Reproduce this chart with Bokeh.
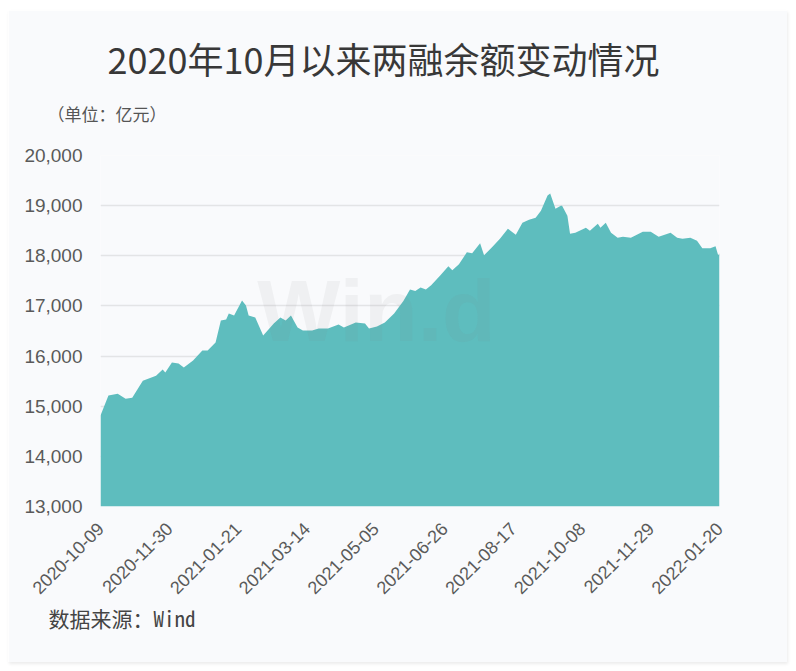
import pandas as pd
from bokeh.plotting import figure
from bokeh.models import (ColumnDataSource, Range1d, FixedTicker, NumeralTickFormatter,
                          DatetimeTickFormatter, Label, Title)
from bokeh.embed import file_html
from bokeh.resources import INLINE
from math import pi

TITLE = "2020年10月以来两融余额变动情况"
UNIT = "（单位：亿元）"
SOURCE = "数据来源：Wind"

# 两融余额 (亿元)
dates = [
    "2020-10-09", "2020-10-15", "2020-10-22", "2020-10-28", "2020-11-02", "2020-11-10",
    "2020-11-20", "2020-11-25", "2020-11-27", "2020-12-02", "2020-12-07", "2020-12-11",
    "2020-12-18", "2020-12-25", "2020-12-29", "2021-01-04", "2021-01-08", "2021-01-12",
    "2021-01-14", "2021-01-18", "2021-01-24", "2021-01-27", "2021-01-29", "2021-02-03",
    "2021-02-09", "2021-02-17", "2021-02-22", "2021-02-26", "2021-03-02", "2021-03-07",
    "2021-03-11", "2021-03-18", "2021-03-23", "2021-03-30", "2021-04-07", "2021-04-11",
    "2021-04-20", "2021-04-27", "2021-04-30", "2021-05-06", "2021-05-12", "2021-05-19",
    "2021-05-26", "2021-05-31", "2021-06-04", "2021-06-08", "2021-06-12", "2021-06-16",
    "2021-06-23", "2021-06-29", "2021-07-02", "2021-07-07", "2021-07-13", "2021-07-17",
    "2021-07-23", "2021-07-26", "2021-08-01", "2021-08-07", "2021-08-13", "2021-08-15",
    "2021-08-19", "2021-08-24", "2021-08-29", "2021-09-03", "2021-09-07", "2021-09-12",
    "2021-09-14", "2021-09-18", "2021-09-22", "2021-09-23", "2021-09-27", "2021-09-29",
    "2021-10-03", "2021-10-11", "2021-10-14", "2021-10-20", "2021-10-22", "2021-10-26",
    "2021-10-30", "2021-11-04", "2021-11-08", "2021-11-14", "2021-11-23", "2021-11-29",
    "2021-12-05", "2021-12-14", "2021-12-19", "2021-12-23", "2021-12-29", "2022-01-03",
    "2022-01-07", "2022-01-13", "2022-01-17", "2022-01-19", "2022-01-20",
]
balance = [
    14815, 15214, 15250, 15150, 15170, 15510,
    15610, 15730, 15670, 15870, 15850, 15770,
    15910, 16110, 16110, 16270, 16710, 16730,
    16850, 16810, 17110, 17010, 16810, 16770,
    16410, 16650, 16770, 16710, 16810, 16570,
    16510, 16510, 16550, 16550, 16630, 16570,
    16670, 16650, 16550, 16590, 16670, 16850,
    17100, 17330, 17300, 17370, 17330, 17410,
    17610, 17790, 17710, 17830, 18070, 18050,
    18250, 18010, 18170, 18340, 18540, 18500,
    18420, 18660, 18720, 18760, 18900, 19200,
    19240, 18940, 19000, 19000, 18800, 18440,
    18460, 18560, 18500, 18640, 18560, 18660,
    18460, 18360, 18380, 18360, 18480, 18480,
    18380, 18460, 18360, 18340, 18360, 18300,
    18150, 18150, 18190, 18010, 18050,
]

tick_dates = ["2020-10-09", "2020-11-30", "2021-01-21", "2021-03-14", "2021-05-05",
              "2021-06-26", "2021-08-17", "2021-10-08", "2021-11-29", "2022-01-20"]

df = pd.DataFrame({"date": pd.to_datetime(dates), "balance": balance})
source = ColumnDataSource(df)

BG = "#f9fafc"

p = figure(width=779, height=652, x_axis_type="datetime", output_backend="svg",
           toolbar_location=None, tools="", title=None, margin=(10, 0, 0, 8),
           x_range=Range1d(pd.Timestamp(tick_dates[0]), pd.Timestamp(tick_dates[-1])),
           y_range=Range1d(13000, 20000),
           min_border_left=92, min_border_right=68, min_border_top=145, min_border_bottom=156,
           background_fill_color=BG, border_fill_color=BG)
p.outline_line_color = None
p.styles = {"box-shadow": "1px 2px 3px rgba(0, 0, 0, 0.08)"}

# === Area === #
p.varea(x="date", y1=13000, y2="balance", source=source, fill_color="#5ebdbe")

# === Axes/Grid === #
p.xgrid.grid_line_color = None
p.ygrid.grid_line_color = "#e3e4e6"
p.ygrid.grid_line_width = 1.5
p.yaxis.ticker = FixedTicker(ticks=list(range(13000, 20001, 1000)))
p.yaxis.formatter = NumeralTickFormatter(format="0,0")
p.xaxis.ticker = FixedTicker(ticks=[pd.Timestamp(d).value / 1e6 for d in tick_dates])
p.xaxis.formatter = DatetimeTickFormatter(days="%Y-%m-%d", months="%Y-%m-%d", years="%Y-%m-%d")
p.xaxis.major_label_orientation = pi / 4

for ax in (p.xaxis, p.yaxis):
    ax.axis_line_color = None
    ax.major_tick_line_color = None
    ax.minor_tick_line_color = None
    ax.major_tick_out = 0
    ax.major_tick_in = 0
    ax.minor_tick_out = 0
    ax.major_label_text_font = "Liberation Sans"
    ax.major_label_text_color = "#5a5a5a"
p.yaxis.major_label_text_font_size = "19px"
p.yaxis.major_label_standoff = 18
p.xaxis.major_label_text_font_size = "18px"
p.xaxis.major_label_standoff = 19

# === Texts === #
# stacked from the frame outwards: spacer, unit, title
p.add_layout(Title(text=" ", text_font_size="17px", standoff=6, vertical_align="middle"), "above")
p.add_layout(Title(text=UNIT, align="left", offset=-53, standoff=4, vertical_align="middle",
                   text_font="Noto Sans CJK SC", text_font_size="17px", text_font_style="normal",
                   text_color="#555555"), "above")
p.add_layout(Title(text=TITLE, align="left", offset=7, standoff=26, vertical_align="middle",
                   text_font="Noto Sans CJK SC", text_font_size="36px", text_font_style="normal",
                   text_color="#383838"), "above")
p.add_layout(Title(text=SOURCE, align="left", offset=-52, standoff=0, vertical_align="top",
                   text_font="Noto Sans Mono CJK SC", text_font_size="21px",
                   text_font_style="normal", text_color="#444444"), "below")

# watermark
p.add_layout(Label(x=276, y=196, x_units="screen", y_units="screen", text="Win.d",
                   text_align="center", text_baseline="middle", text_font="Liberation Sans",
                   text_font_style="bold", text_font_size="88px", text_color="#808080",
                   text_alpha=0.08))

open("out.html", "w").write(file_html(p, INLINE))
